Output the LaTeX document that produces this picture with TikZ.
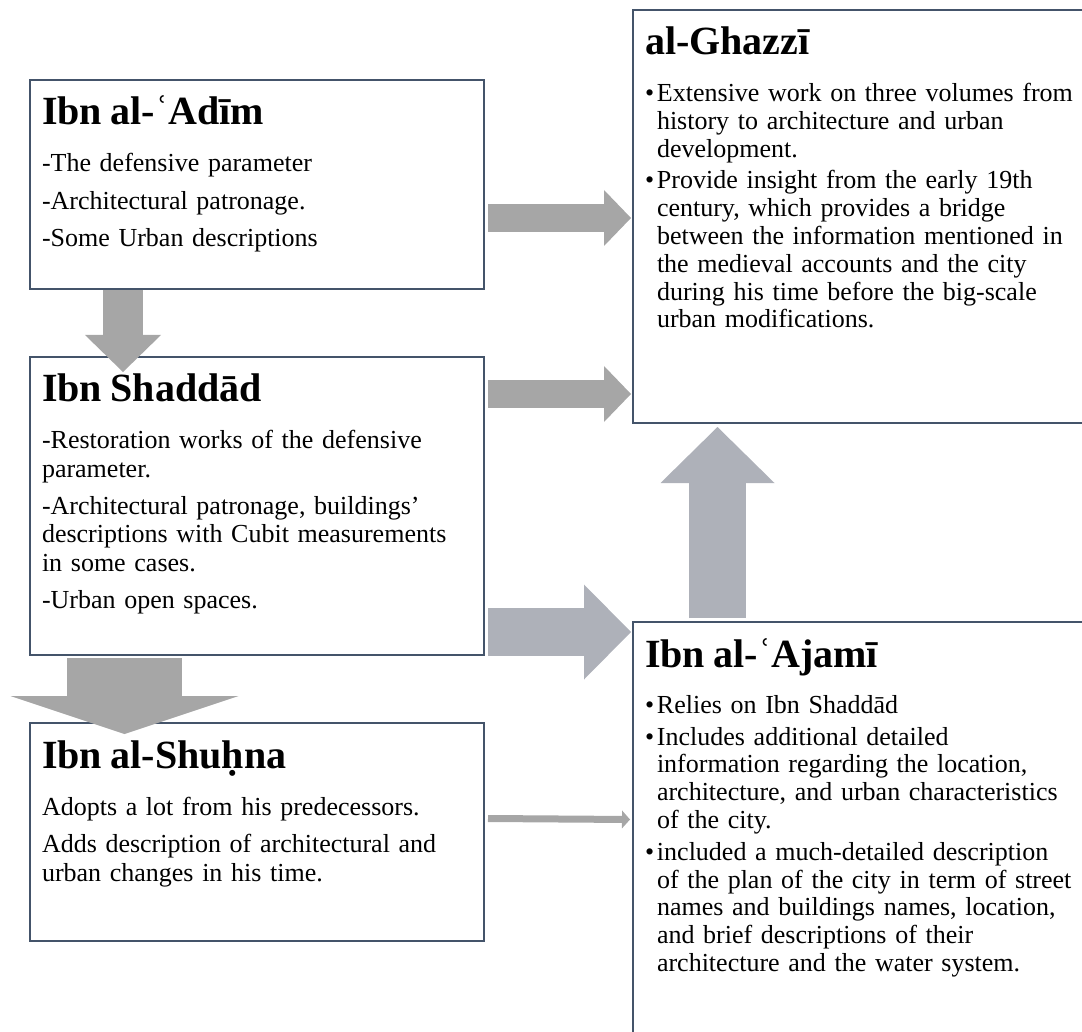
\documentclass[tikz,border=0pt]{standalone}
\usepackage{fontspec}
\setmainfont{Liberation Serif}
\usepackage{xcolor}
\usepackage{tikz}
\usetikzlibrary{arrows.meta, positioning}

\definecolor{cardline}{RGB}{68,84,106}
\definecolor{flowgray}{RGB}{166,166,166}
\definecolor{flowblue}{RGB}{174,177,185}

\newcommand{\cardtitle}[1]{{\fontsize{40}{44}\selectfont\bfseries #1}}
\newcommand{\bul}{\makebox[12pt][l]{\textbullet}}
\newcommand{\hang}{\hspace*{12pt}}

\begin{document}
\begin{tikzpicture}[
        x=1pt, y=-1pt,
        node distance=68pt and 149pt,
        card/.style={rectangle, draw=cardline, line width=2.5pt, fill=white, anchor=north west,
            outer sep=0pt, text width=430pt, align=left, inner sep=12pt, text height=33pt,
            font=\fontsize{26}{#1}\selectfont},
        card/.default=28.5pt,
        flow/.style n args={4}{draw=#1, line cap=butt, line width=#2,
            -{Triangle[length=#3, width=#4, line width=0pt]}}
    ]

        \path[use as bounding box, clip] (0,0) rectangle (1082,1032);

        \node[card, text depth=152pt] (adim) at (30,80) {\cardtitle{Ibn al-ʿAdīm}\\[18.5pt]
            -The defensive parameter\\[9pt]
            -Architectural patronage.\\[9pt]
            -Some Urban descriptions};
        \node[card, text depth=241pt, below=of adim] (shaddad) {\cardtitle{Ibn Shaddād}\\[18pt]
            -Restoration works of the defensive\\
            parameter.\\[9pt]
            -Architectural patronage, buildings’\\
            descriptions with Cubit measurements\\
            in some cases.\\[9pt]
            -Urban open spaces.};
        \node[card, text depth=161pt, below=of shaddad] (shuhna) {\cardtitle{Ibn al-Shuḥna}\\[18.5pt]
            Adopts a lot from his predecessors.\\[9pt]
            Adds description of architectural and\\
            urban changes in his time.};

        \node[card=27.8pt, text depth=356pt] (ghazzi) at (633,10) {\cardtitle{al-Ghazzī}\\[19pt]
            \bul Extensive work on three volumes from\\
            \hang history to architecture and urban\\
            \hang development.\\[3.7pt]
            \bul Provide insight from the early 19th\\
            \hang century, which provides a bridge\\
            \hang between the information mentioned in\\
            \hang the medieval accounts and the city\\
            \hang during his time before the big-scale\\
            \hang urban modifications.};
        \node[card=27.8pt, text depth=373pt, below=199pt of ghazzi] (ajami) {\cardtitle{Ibn al-ʿAjamī}\\[18.5pt]
            \bul Relies on Ibn Shaddād\\[4pt]
            \bul Includes additional detailed\\
            \hang information regarding the location,\\
            \hang architecture, and urban characteristics\\
            \hang of the city.\\[4pt]
            \bul included a much-detailed description\\
            \hang of the plan of the city in term of street\\
            \hang names and buildings names, location,\\
            \hang and brief descriptions of their\\
            \hang architecture and the water system.};

        \draw[flow={flowgray}{40pt}{37pt}{76pt}] ([shift={(93,1)}]adim.south west) -- ([shift={(93,15)}]shaddad.north west);
        \draw[flow={flowgray}{28pt}{27pt}{56pt}] ([shift={(4,138)}]adim.north east) -- ([shift={(-2,208)}]ghazzi.north west);
        \draw[flow={flowgray}{28pt}{27pt}{56pt}] ([shift={(4,37)}]shaddad.north east) -- ([shift={(-2,-29)}]ghazzi.south west);
        \draw[flow={flowblue}{48pt}{47pt}{95pt}] ([shift={(4,-23)}]shaddad.south east) -- ([shift={(-2,10)}]ajami.north west);
        \draw[flow={flowgray}{115pt}{38pt}{228pt}] ([shift={(94.5,3)}]shaddad.south west) -- ([shift={(94.5,11)}]shuhna.north west);
        \draw[flow={flowgray}{7pt}{8pt}{18pt}] ([shift={(4,95.5)}]shuhna.north east) -- ([shift={(-3,197.5)}]ajami.north west);
        \draw[flow={flowblue}{57pt}{56pt}{114pt}] ([shift={(84.5,-4)}]ajami.north west) -- ([shift={(84.5,4)}]ghazzi.south west);

    \end{tikzpicture}
\end{document}
